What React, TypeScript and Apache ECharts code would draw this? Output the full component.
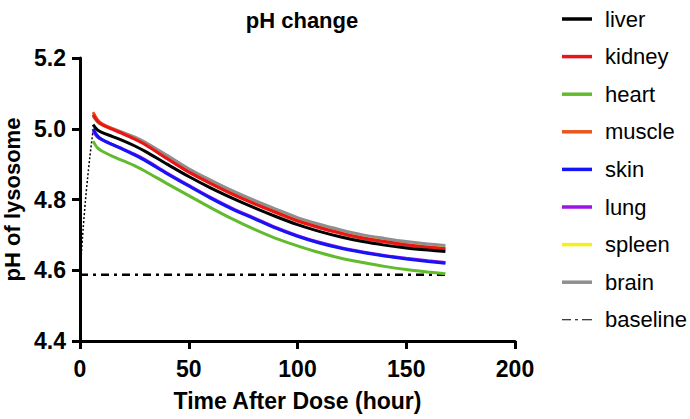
import React, { useEffect, useRef } from "react";
import * as echarts from "echarts";

const hours = [6, 8, 10, 15, 20, 25, 30, 40, 50, 60, 70, 80, 90, 100, 110, 120, 130, 140, 150, 160, 168];

const liver = [5.012, 4.997, 4.99, 4.978, 4.966, 4.952, 4.936, 4.9, 4.865, 4.833, 4.804, 4.777, 4.752, 4.729, 4.71, 4.694, 4.681, 4.671, 4.663, 4.657, 4.653];
const kidney = [5.04, 5.022, 5.012, 4.998, 4.985, 4.971, 4.955, 4.916, 4.878, 4.846, 4.816, 4.789, 4.764, 4.74, 4.721, 4.705, 4.691, 4.681, 4.672, 4.665, 4.661];
const heart = [4.965, 4.946, 4.937, 4.922, 4.909, 4.896, 4.88, 4.845, 4.811, 4.777, 4.745, 4.716, 4.69, 4.669, 4.65, 4.634, 4.622, 4.611, 4.602, 4.595, 4.59];
const muscle = [5.047, 5.026, 5.015, 5.0, 4.986, 4.972, 4.956, 4.916, 4.877, 4.845, 4.815, 4.788, 4.763, 4.739, 4.72, 4.704, 4.69, 4.68, 4.671, 4.664, 4.66];
const skin = [5.0, 4.98, 4.97, 4.955, 4.941, 4.926, 4.91, 4.873, 4.838, 4.804, 4.773, 4.746, 4.719, 4.696, 4.677, 4.662, 4.65, 4.64, 4.632, 4.625, 4.62];
const lung = [4.994, 4.977, 4.969, 4.955, 4.942, 4.928, 4.912, 4.875, 4.84, 4.806, 4.775, 4.748, 4.721, 4.698, 4.679, 4.664, 4.652, 4.642, 4.634, 4.627, 4.622];
const spleen = [5.036, 5.02, 5.011, 4.999, 4.987, 4.974, 4.959, 4.921, 4.883, 4.851, 4.821, 4.794, 4.769, 4.745, 4.726, 4.71, 4.696, 4.686, 4.677, 4.67, 4.666];
const brain = [5.036, 5.02, 5.012, 5.0, 4.989, 4.977, 4.962, 4.925, 4.887, 4.855, 4.825, 4.798, 4.773, 4.749, 4.73, 4.714, 4.7, 4.69, 4.681, 4.674, 4.67];

const riseHours = [0, 1, 2, 3, 4, 5, 6];
const riseValues = [4.587, 4.68, 4.76, 4.83, 4.89, 4.945, 4.995];

const baselineHours = [0, 168];
const baselineValues = [4.587, 4.587];

const organNames = ["liver", "kidney", "heart", "muscle", "skin", "lung", "spleen", "brain"];
const organData = [liver, kidney, heart, muscle, skin, lung, spleen, brain];
const organColors = ["#000000", "#e8161b", "#62bb2e", "#e8561a", "#1414f5", "#9b14e8", "#f5f01a", "#8f8f8f"];
const organZ = [7, 6, 3, 5, 4, 3, 2, 3];

const yTicks = ["4.4", "4.6", "4.8", "5.0", "5.2"];

export default function App() {
  const ref = useRef<HTMLDivElement>(null);
  useEffect(() => {
    if (!ref.current) return;
    const chart = echarts.init(ref.current, null, { renderer: "svg" });
    const font = "Liberation Sans, Arial, Helvetica, sans-serif";
    const series: any[] = organNames.map((name, i) => ({
      name,
      type: "line",
      smooth: 0.3,
      showSymbol: false,
      symbol: "none",
      data: hours.map((h, j) => [h, organData[i][j]]),
      lineStyle: { color: organColors[i], width: 3 },
      itemStyle: { color: organColors[i] },
      z: organZ[i],
    }));
    series.push({
      name: "baseline",
      type: "line",
      symbol: "none",
      data: baselineHours.map((h, j) => [h, baselineValues[j]]),
      lineStyle: { color: "#000", width: 2.5, type: [8, 5, 3, 5] },
      itemStyle: { color: "#000" },
      z: 2,
    });
    series.push({
      name: "rise",
      type: "line",
      smooth: true,
      symbol: "none",
      data: riseHours.map((h, j) => [h, riseValues[j]]),
      lineStyle: { color: "#000", width: 1.5, type: [2, 2] },
      z: 2,
    });
    const legendData: any[] = organNames.map((n) => ({ name: n, icon: "rect" }));
    legendData.push({
      name: "baseline",
      icon: "path://M0,0h9v1h-9z M13,0h3v1h-3z M20,0h10v1h-10z",
    });
    chart.setOption({
      animation: false,
      backgroundColor: "#fff",
      title: {
        text: "pH change",
        left: 297,
        textAlign: "center",
        top: 4,
        textStyle: { fontFamily: font, fontWeight: "bold", fontSize: 22, color: "#000" },
      },
      legend: {
        data: legendData,
        orient: "vertical",
        left: 557,
        top: 3,
        itemWidth: 30,
        itemHeight: 3.5,
        itemGap: 15.6,
        textStyle: { fontFamily: font, fontSize: 22, color: "#000", lineHeight: 22, padding: [0, 0, 0, 8] },
      },
      grid: { left: 80, right: 175, top: 58, bottom: 78, outerBoundsMode: "none", containLabel: false },
      xAxis: {
        type: "value",
        min: 0,
        max: 200,
        interval: 50,
        name: "Time After Dose (hour)",
        nameLocation: "middle",
        nameGap: 48,
        nameTextStyle: { fontFamily: font, fontWeight: "bold", fontSize: 23, color: "#000" },
        axisLine: { show: true, lineStyle: { color: "#000", width: 3 } },
        axisTick: { show: true, length: 8, lineStyle: { color: "#000", width: 3 } },
        axisLabel: { fontFamily: font, fontWeight: "bold", fontSize: 23, color: "#000", margin: 16 },
        splitLine: { show: false },
      },
      yAxis: {
        type: "value",
        min: 4.4,
        max: 5.2,
        interval: 0.2,
        name: "pH of lysosome",
        nameLocation: "middle",
        nameGap: 54,
        nameTextStyle: { fontFamily: font, fontWeight: "bold", fontSize: 22, color: "#000" },
        axisLine: { show: true, lineStyle: { color: "#000", width: 3 } },
        axisTick: { show: true, length: 8, lineStyle: { color: "#000", width: 3 } },
        axisLabel: {
          fontFamily: font,
          fontWeight: "bold",
          fontSize: 23,
          color: "#000",
          margin: 14,
          formatter: (v: number) => {
            const s = v.toFixed(1);
            return yTicks.includes(s) ? s : "";
          },
        },
        splitLine: { show: false },
      },
      series,
    });
    return () => chart.dispose();
  }, []);
  return <div ref={ref} style={{ position: "fixed", left: 0, top: 0, width: 690, height: 419 }} />;
}
